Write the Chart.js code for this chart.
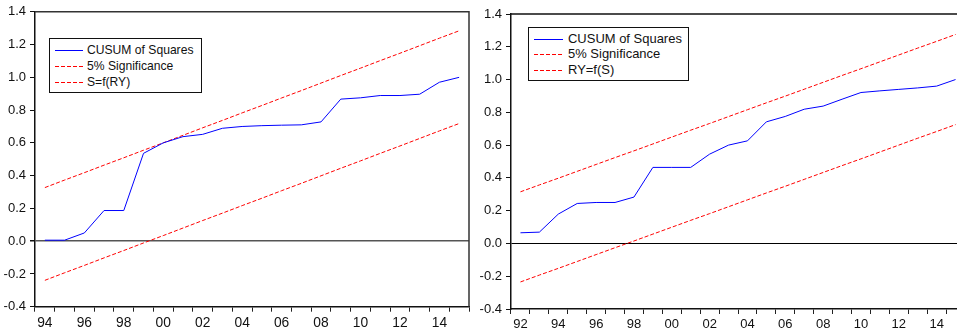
<!DOCTYPE html>
<html>
<head>
<meta charset="utf-8">
<script src="https://cdn.jsdelivr.net/npm/chart.js@4.4.1/dist/chart.umd.min.js"></script>
<style>
  html, body { margin: 0; padding: 0; background: #fff; overflow: hidden; width: 957px; height: 335px; }
  canvas { position: absolute; top: 0; }
  .legend { position: absolute; border: 1px solid #111; background: #fff; font-family: "Liberation Sans", Arial, sans-serif; color: #111; box-sizing: border-box; }
  .legend .row { position: absolute; left: 0; right: 0; height: 16px; }
  .legend svg { position: absolute; top: 0; }
  .legend span { position: absolute; top: 0; line-height: 16px; white-space: nowrap; }
</style>
</head>
<body>
<canvas id="c1" width="472" height="335" style="left:0px"></canvas>
<canvas id="c2" width="492" height="335" style="left:476px"></canvas>
<div id="leg1" class="legend" style="left:49px;top:38px;width:153px;height:55px"></div>
<div id="leg2" class="legend" style="left:528px;top:27px;width:161px;height:54px"></div>
<script>
// ---- Left chart data ----
const categoriesL = ['1994','1995','1996','1997','1998','1999','2000','2001','2002','2003','2004','2005','2006','2007','2008','2009','2010','2011','2012','2013','2014','2015'];
const tickLabelsL = ['94','','96','','98','','00','','02','','04','','06','','08','','10','','12','','14',''];
const cusumL = [0.006,0.006,0.05,0.187,0.187,0.536,0.600,0.638,0.652,0.689,0.700,0.705,0.708,0.710,0.728,0.867,0.875,0.889,0.889,0.897,0.970,1.000];
const upperL = [0.327,0.373,0.418,0.464,0.509,0.555,0.600,0.646,0.692,0.737,0.783,0.828,0.874,0.919,0.965,1.011,1.056,1.102,1.147,1.193,1.239,1.284];
const lowerL = [-0.239,-0.193,-0.148,-0.102,-0.057,-0.011,0.034,0.080,0.126,0.171,0.217,0.262,0.308,0.353,0.399,0.445,0.490,0.536,0.581,0.627,0.673,0.718];
const labelsL = ['CUSUM of Squares','5% Significance','S=f(RY)'];

// ---- Right chart data ----
const categoriesR = ['1992','1993','1994','1995','1996','1997','1998','1999','2000','2001','2002','2003','2004','2005','2006','2007','2008','2009','2010','2011','2012','2013','2014','2015'];
const tickLabelsR = ['92','','94','','96','','98','','00','','02','','04','','06','','08','','10','','12','','14',''];
const cusumR = [0.065,0.069,0.179,0.244,0.250,0.250,0.283,0.464,0.464,0.464,0.545,0.600,0.626,0.742,0.775,0.819,0.838,0.880,0.921,0.931,0.940,0.949,0.960,1.000];
const upperR = [0.315,0.357,0.398,0.440,0.482,0.524,0.565,0.607,0.649,0.691,0.732,0.774,0.816,0.858,0.899,0.941,0.983,1.025,1.066,1.108,1.150,1.192,1.233,1.275];
const lowerR = [-0.235,-0.193,-0.152,-0.110,-0.068,-0.026,0.015,0.057,0.099,0.141,0.182,0.224,0.266,0.308,0.349,0.391,0.433,0.475,0.516,0.558,0.600,0.642,0.683,0.725];
const labelsR = ['CUSUM of Squares','5% Significance','RY=f(S)'];

const yTicks = [-0.4,-0.2,0.0,0.2,0.4,0.6,0.8,1.0,1.2,1.4];

const FAMILY = '"Liberation Sans", Arial, sans-serif';
Chart.defaults.font.family = FAMILY;
Chart.defaults.font.size = 13;
Chart.defaults.color = '#111';

const framePlugin = {
  id: 'frame',
  afterDraw(chart, args, opts) {
    const a = chart.chartArea, ctx = chart.ctx;
    ctx.save();
    ctx.strokeStyle = opts.color || '#222';
    ctx.lineWidth = opts.width || 1.5;
    ctx.beginPath();
    ctx.moveTo(a.left, a.top); ctx.lineTo(a.right, a.top); ctx.lineTo(a.right, a.bottom);
    ctx.stroke();
    ctx.restore();
  }
};

function makeChart(id, cats, tickLabels, cusum, upper, lower, labels, geo) {
  return new Chart(document.getElementById(id), {
    type: 'line',
    data: {
      labels: cats,
      datasets: [
        { label: labels[0], data: cusum, borderColor: '#0000ff', borderWidth: 1, pointRadius: 0, tension: 0, fill: false },
        { label: labels[1], data: upper, borderColor: '#ff0000', borderWidth: 1, borderDash: [4, 2], pointRadius: 0, tension: 0, fill: false },
        { label: labels[2], data: lower, borderColor: '#ff0000', borderWidth: 1, borderDash: [4, 2], pointRadius: 0, tension: 0, fill: false }
      ]
    },
    options: {
      responsive: false,
      animation: false,
      devicePixelRatio: 1,
      layout: { padding: { top: geo.top, right: geo.right, left: 0, bottom: 0 } },
      plugins: { legend: { display: false }, tooltip: { enabled: false }, frame: { color: geo.frameColor, width: 1.5 } },
      scales: {
        x: {
          type: 'category',
          offset: true,
          grid: { offset: true, drawOnChartArea: false, drawTicks: true, tickLength: 5, tickColor: '#222', lineWidth: 1 },
          border: { display: true, color: '#111', width: 1.5 },
          ticks: { autoSkip: false, maxRotation: 0, minRotation: 0, padding: 3, color: '#111',
                   font: { size: geo.xFont },
                   callback: (v, i) => tickLabels[i] },
          afterFit: s => { s.height = geo.xh; }
        },
        y: {
          min: -0.4, max: 1.4,
          afterBuildTicks: s => { s.ticks = yTicks.map(v => ({ value: v })); },
          grid: {
            drawOnChartArea: true, drawTicks: true, tickLength: 5, tickColor: '#111',
            color: c => (c.tick && Math.abs(c.tick.value) < 1e-9) ? geo.zeroColor : 'rgba(0,0,0,0)',
            lineWidth: c => (c.tick && Math.abs(c.tick.value) < 1e-9) ? geo.zeroWidth : 1
          },
          border: { display: true, color: '#111', width: 1.5 },
          ticks: { padding: 4, color: '#111', font: { size: 13 }, callback: v => Number(v).toFixed(1) },
          afterFit: s => { s.width = geo.yw; }
        }
      }
    },
    plugins: [framePlugin]
  });
}

const ch1 = makeChart('c1', categoriesL, tickLabelsL, cusumL, upperL, lowerL, labelsL,
  { top: 11, right: 3, xh: 28.3, yw: 35, zeroColor: '#555', zeroWidth: 1.5, frameColor: '#333', xFont: 13.8 });
const ch2 = makeChart('c2', categoriesR, tickLabelsR, cusumR, upperR, lowerR, labelsR,
  { top: 14, right: 3, xh: 26, yw: 35, zeroColor: '#000', zeroWidth: 1, frameColor: '#111', xFont: 13 });

// pick legend font size so the first label spans the width seen in the picture
function fitFont(text, targetWidth) {
  const ctx = document.createElement('canvas').getContext('2d');
  ctx.font = '100px ' + FAMILY;
  const w = ctx.measureText(text).width;
  return Math.max(10, Math.min(15, 100 * targetWidth / w));
}

function buildLegend(chart, el, rowTops, lineX0, lineX1, textX, textWidth) {
  el.style.fontSize = fitFont(chart.data.datasets[0].label, textWidth).toFixed(2) + 'px';
  chart.data.datasets.forEach((ds, i) => {
    const row = document.createElement('div');
    row.className = 'row';
    row.style.top = rowTops[i] + 'px';
    const svg = document.createElementNS('http://www.w3.org/2000/svg', 'svg');
    svg.setAttribute('width', lineX1);
    svg.setAttribute('height', 16);
    svg.style.left = '0px';
    const ln = document.createElementNS('http://www.w3.org/2000/svg', 'line');
    ln.setAttribute('x1', lineX0); ln.setAttribute('x2', lineX1);
    ln.setAttribute('y1', 8.5); ln.setAttribute('y2', 8.5);
    ln.setAttribute('stroke', ds.borderColor);
    ln.setAttribute('stroke-width', 1);
    if (ds.borderDash) ln.setAttribute('stroke-dasharray', ds.borderDash.join(' '));
    svg.appendChild(ln);
    row.appendChild(svg);
    const sp = document.createElement('span');
    sp.textContent = ds.label;
    sp.style.left = textX + 'px';
    row.appendChild(sp);
    el.appendChild(row);
  });
}
buildLegend(ch1, document.getElementById('leg1'), [3, 19, 35], 5, 33, 37, 106.5);
buildLegend(ch2, document.getElementById('leg2'), [2.5, 18, 34], 5, 34, 39, 114);
</script>
</body>
</html>
